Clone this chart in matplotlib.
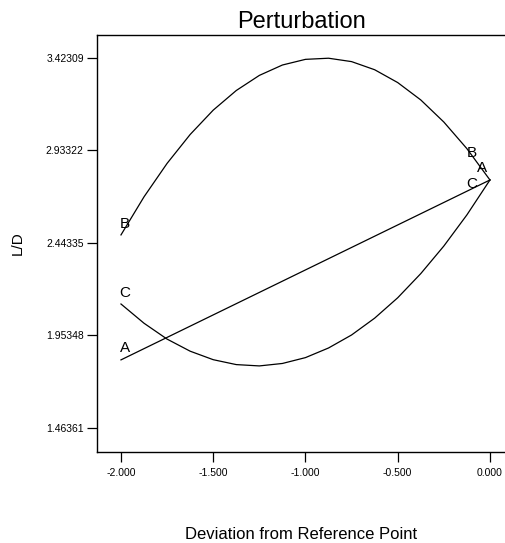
# Perturbation plot of L/D against deviation from the reference point
import matplotlib
matplotlib.use("Agg")
import matplotlib.pyplot as plt

plt.rcParams['font.family'] = ['Liberation Sans', 'DejaVu Sans']

dev = [-2.0, -1.875, -1.75, -1.625, -1.5, -1.375, -1.25, -1.125, -1.0,
       -0.875, -0.75, -0.625, -0.5, -0.375, -0.25, -0.125, 0.0]

# L/D per factor; A is a straight line
dev_a = [-2.0, 0.0]
ld_a = [1.824, 2.777]
ld_b = [2.486, 2.688, 2.865, 3.018, 3.147, 3.251, 3.331, 3.386, 3.416,
        3.422, 3.404, 3.361, 3.293, 3.201, 3.084, 2.943, 2.777]
ld_c = [2.120, 2.018, 1.934, 1.870, 1.825, 1.799, 1.792, 1.805, 1.836,
        1.887, 1.956, 2.045, 2.153, 2.281, 2.427, 2.592, 2.777]

yticks = [1.46361, 1.95348, 2.44335, 2.93322, 3.42309]
xticks = [-2.0, -1.5, -1.0, -0.5, 0.0]

# letter labels: (text, x, y)
labels = [
    ("B", -1.978, 2.544), ("C", -1.978, 2.178), ("A", -1.978, 1.887),
    ("B", -0.101, 2.920), ("A", -0.041, 2.840), ("C", -0.101, 2.756),
]

fig = plt.figure(figsize=(5.06, 5.43), dpi=100)
ax = fig.add_axes([97 / 506, 91 / 543, 409 / 506, 417 / 543])

ax.plot(dev_a, ld_a, color='black', linewidth=0.9)
ax.plot(dev, ld_b, color='black', linewidth=0.9)
ax.plot(dev, ld_c, color='black', linewidth=0.9)

for txt, x, y in labels:
    ax.text(x, y, txt, fontsize=11, ha='center', va='center', color='black')

ax.set_xlim(-2.130, 0.087)
ax.set_ylim(1.336, 3.545)
ax.set_xticks(xticks)
ax.set_xticklabels([f"{v:.3f}" for v in xticks])
ax.set_yticks(yticks)
ax.set_yticklabels([f"{v:.5f}" for v in yticks])
ax.tick_params(axis='both', direction='out', length=7.5, width=0.9,
               labelsize=7.5, color='black')
ax.tick_params(axis='x', pad=4)
ax.tick_params(axis='y', pad=2)

ax.spines['right'].set_visible(False)
for s in ('left', 'bottom', 'top'):
    ax.spines[s].set_linewidth(1.0)

ax.set_title("Perturbation", fontsize=17, pad=5)
ax.set_xlabel("Deviation from Reference Point", fontsize=12)
ax.xaxis.set_label_coords(0.5, -0.180)
ax.set_ylabel("L/D", fontsize=11)
ax.yaxis.set_label_coords(-0.176, 0.5)

plt.savefig("out.png", dpi=100)
